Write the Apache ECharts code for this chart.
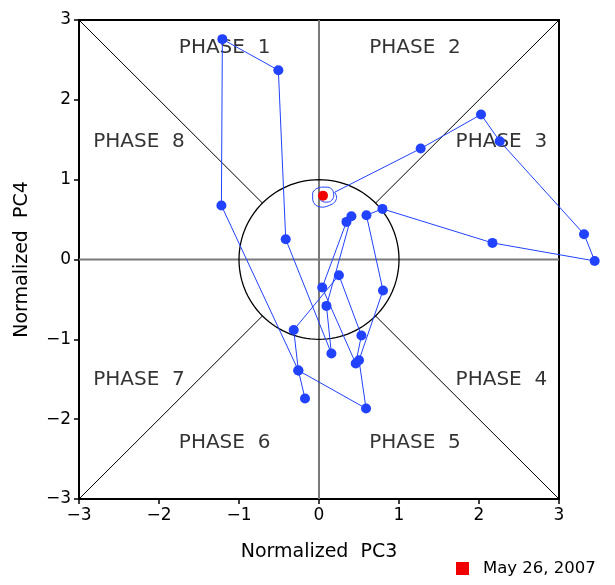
<!DOCTYPE html>
<html>
<head>
<meta charset="utf-8">
<script src="https://cdn.jsdelivr.net/npm/echarts@6/dist/echarts.min.js"></script>
<style>
  html, body { margin: 0; padding: 0; background: #fff; }
  #main { width: 615px; height: 585px; }
</style>
</head>
<body>
<div id="main"></div>
<script>
  // trajectory in drawing order (oldest -> newest)
  var pc3 = [-0.175, -0.258, -1.22, -1.208, -0.508, -0.416, 0.155, 0.093, 0.405, 0.343, 0.04, 0.459, 0.53, 0.249, -0.316, -0.258, 0.588, 0.50, 0.80, 0.593, 0.793, 2.168, 3.446, 3.313, 2.259, 2.025, 1.271]
  var pc4 = [-1.741, -1.39, 0.676, 2.76, 2.371, 0.254, -1.178, -0.581, 0.542, 0.471, -0.351, -1.303, -0.952, -0.197, -0.882, -1.39, -1.866, -1.261, -0.388, 0.555, 0.634, 0.208, -0.018, 0.317, 1.482, 1.816, 1.39]
  // small loop around the last day
  var loopPc3 = [0.196, 0.221, 0.196, 0.134, 0.046, -0.041, -0.079, -0.079, -0.041, 0.034, 0.109, 0.171, 0.184, 0.146, 0.084, 0.021, 0.021, 0.046]
  var loopPc4 = [0.843, 0.780, 0.718, 0.680, 0.655, 0.680, 0.755, 0.831, 0.881, 0.906, 0.906, 0.868, 0.793, 0.730, 0.718, 0.743, 0.793, 0.805]
  var lastDay = [0.05, 0.80]
  var lastDayName = 'May 26, 2007'

  var phaseNames = ['PHASE  1', 'PHASE  2', 'PHASE  3', 'PHASE  4', 'PHASE  5', 'PHASE  6', 'PHASE  7', 'PHASE  8']
  var phaseX = [-1.18, 1.2, 2.28, 2.28, 1.2, -1.18, -2.25, -2.25]
  var phaseY = [2.65, 2.65, 1.48, -1.51, -2.30, -2.30, -1.51, 1.48]

  var axisMin = -3, axisMax = 3, tickStep = 1
  var radius = 1

  var font = 'DejaVu Sans'
  var blue = '#2142ff'

  var chart = echarts.init(document.getElementById('main'))

  var track = pc3.map(function (x, i) { return [x, pc4[i]] })
  var trackLine = track.concat([[loopPc3[0], loopPc4[0]]])
  var loop = loopPc3.map(function (x, i) { return [x, loopPc4[i]] })

  var circle = []
  for (var a = 0; a <= 360; a += 3) {
    var t = a * Math.PI / 180
    circle.push([radius * Math.cos(t), radius * Math.sin(t)])
  }

  var series = []
  // zero lines
  series.push({ type: 'line', data: [[axisMin, 0], [axisMax, 0]], symbol: 'none', silent: true,
    lineStyle: { color: '#7a7a7a', width: 2 } })
  series.push({ type: 'line', data: [[0, axisMin], [0, axisMax]], symbol: 'none', silent: true,
    lineStyle: { color: '#7a7a7a', width: 2 } })
  // diagonals from corners to the unit circle
  var d = radius / Math.SQRT2
  ;[[1, 1], [1, -1], [-1, 1], [-1, -1]].forEach(function (s) {
    series.push({ type: 'line', data: [[s[0] * axisMax, s[1] * axisMax], [s[0] * d, s[1] * d]],
      symbol: 'none', silent: true, lineStyle: { color: '#000', width: 1 } })
  })
  series.push({ type: 'line', data: circle, symbol: 'none', silent: true,
    lineStyle: { color: '#000', width: 1.3 } })
  // phase names
  series.push({
    type: 'scatter', symbolSize: 0, silent: true,
    data: phaseNames.map(function (n, i) { return { name: n, value: [phaseX[i], phaseY[i]] } }),
    label: { show: true, position: 'inside', formatter: '{b}', color: '#000', fontFamily: font, fontSize: 20 }
  })
  // path (lines series so it can leave the frame)
  series.push({ type: 'lines', coordinateSystem: 'cartesian2d', polyline: true, clip: false, silent: true,
    data: [{ coords: trackLine }], lineStyle: { color: blue, width: 1, opacity: 1 }, z: 5 })
  series.push({ type: 'scatter', data: track, clip: false, symbol: 'circle', symbolSize: 10,
    itemStyle: { color: blue, opacity: 1 }, z: 6 })
  series.push({ type: 'line', data: loop, smooth: 0.3, symbol: 'none', clip: false,
    lineStyle: { color: blue, width: 1 }, z: 5 })
  series.push({ type: 'scatter', name: lastDayName, data: [lastDay], symbol: 'circle', symbolSize: 10,
    itemStyle: { color: '#f00000', opacity: 1 }, z: 7 })

  var tickLabel = function (v) { return String(v).replace('-', '\u2212') }

  chart.setOption({
    animation: false,
    textStyle: { fontFamily: font },
    legend: {
      data: [{ name: lastDayName, icon: 'rect' }],
      left: 451, top: 555,
      itemWidth: 13, itemHeight: 13,
      textStyle: { fontFamily: font, fontSize: 16.5, color: '#000', padding: [0, 0, 0, 9] }
    },
    grid: { left: 79, top: 20, width: 480, height: 479, show: true, borderColor: '#000', borderWidth: 2 },
    xAxis: {
      type: 'value', min: axisMin, max: axisMax, interval: tickStep,
      name: 'Normalized  PC3', nameLocation: 'middle', nameGap: 44,
      nameTextStyle: { fontFamily: font, fontSize: 19, color: '#000' },
      axisLine: { show: true, onZero: false, lineStyle: { color: '#000', width: 2 } },
      axisTick: { show: true, length: 5, lineStyle: { color: '#000', width: 1.5 } },
      axisLabel: { fontFamily: font, fontSize: 17, color: '#000', margin: 8, formatter: tickLabel },
      splitLine: { show: false }
    },
    yAxis: {
      type: 'value', min: axisMin, max: axisMax, interval: tickStep,
      name: 'Normalized  PC4', nameLocation: 'middle', nameGap: 47, nameRotate: 90,
      nameTextStyle: { fontFamily: font, fontSize: 19, color: '#000' },
      axisLine: { show: true, onZero: false, lineStyle: { color: '#000', width: 2 } },
      axisTick: { show: true, length: 5, lineStyle: { color: '#000', width: 1.5 } },
      axisLabel: { fontFamily: font, fontSize: 17, color: '#000', margin: 8, formatter: tickLabel },
      splitLine: { show: false }
    },
    series: series
  })
</script>
</body>
</html>
